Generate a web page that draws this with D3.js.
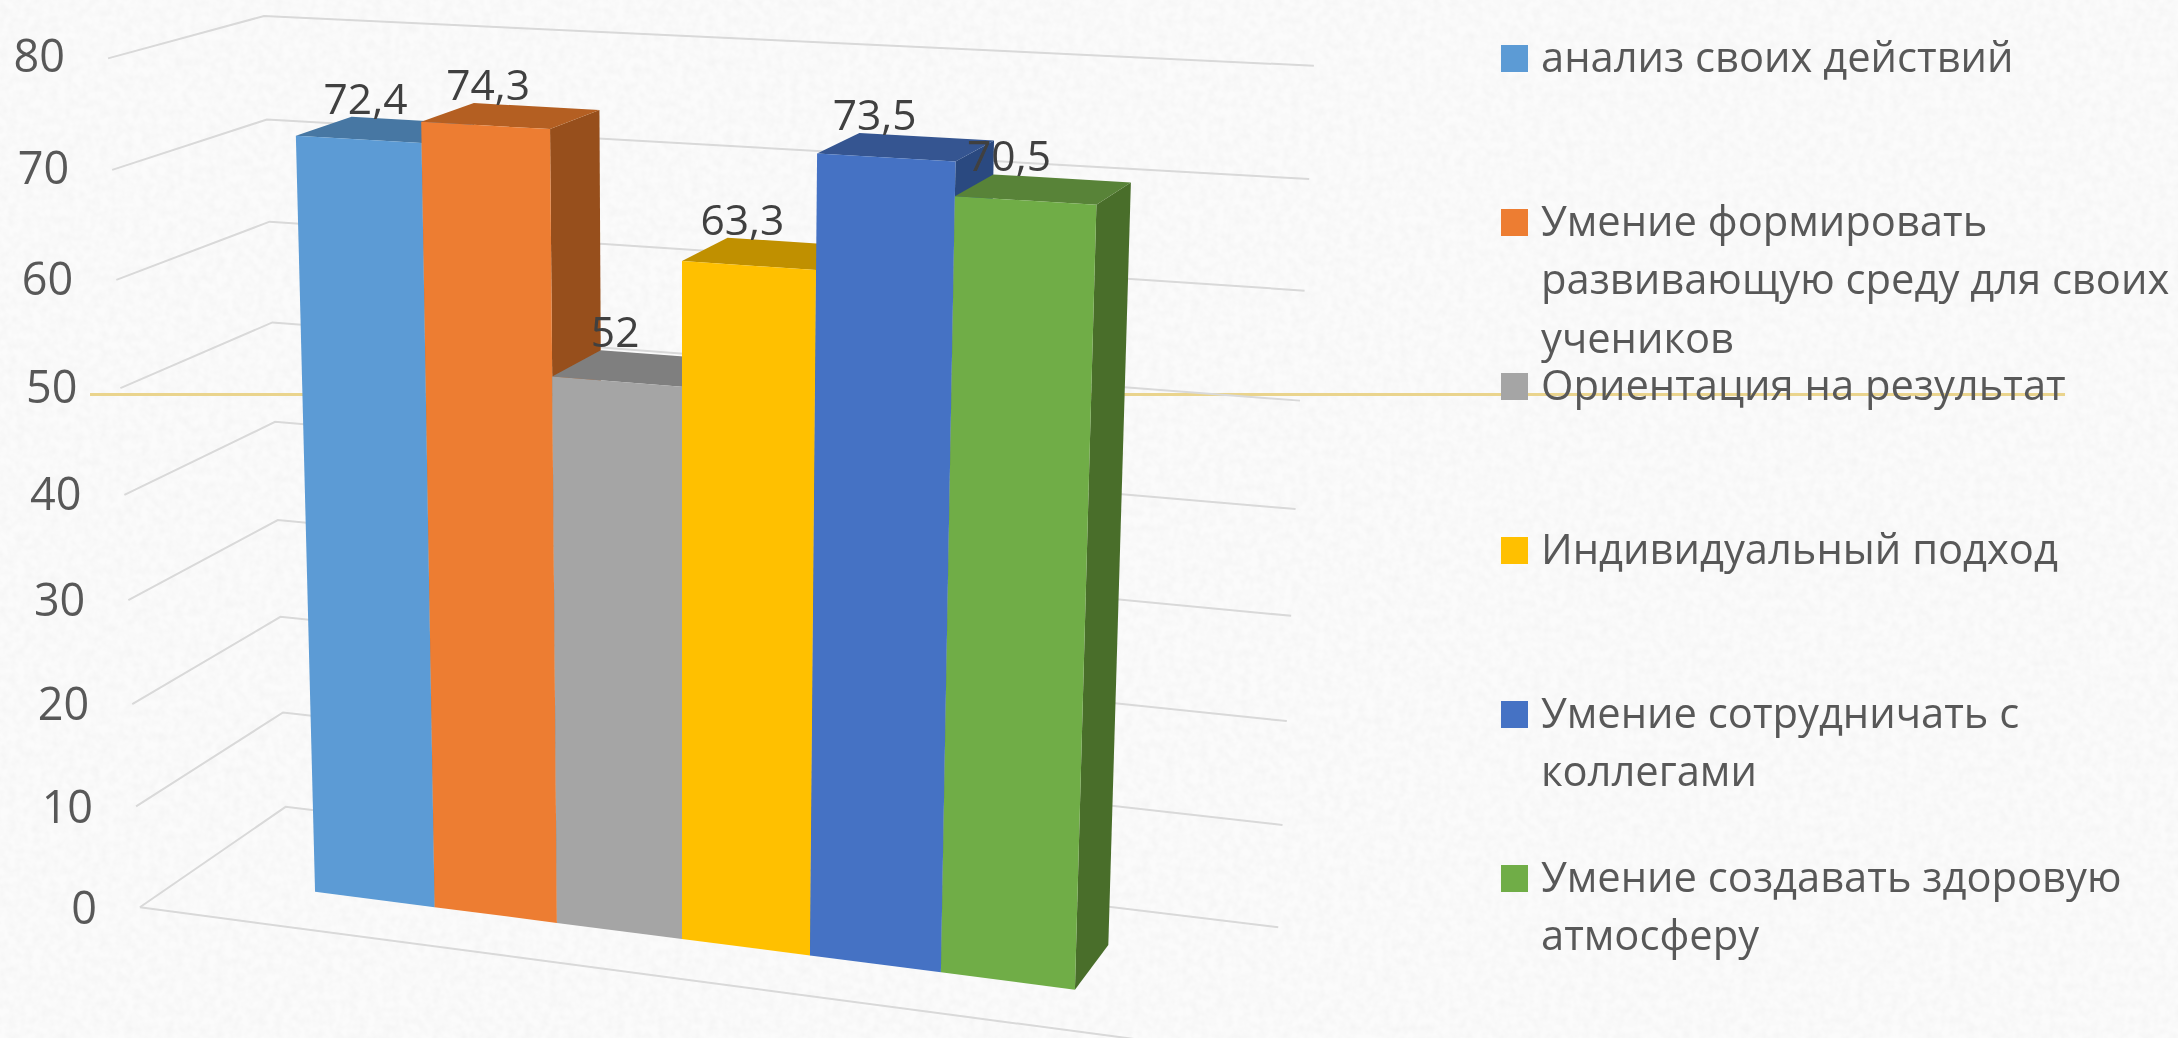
<!DOCTYPE html>
<html lang="ru">
<head>
<meta charset="utf-8">
<script src="https://cdn.jsdelivr.net/npm/d3@7/dist/d3.min.js"></script>
<style>
html,body{margin:0;padding:0;background:#fafafa;overflow:hidden}
svg{display:block}
text{font-family:"Open Sans",sans-serif}
</style>
</head>
<body>
<svg id="chart" width="2178" height="1038"></svg>
<script>
const categories = [
  ["анализ своих действий"],
  ["Умение формировать", "развивающую среду для своих", "учеников"],
  ["Ориентация на результат"],
  ["Индивидуальный подход"],
  ["Умение сотрудничать с", "коллегами"],
  ["Умение создавать здоровую", "атмосферу"]
];
const values = [72.4, 74.3, 52, 63.3, 73.5, 70.5];
const valueLabels = ["72,4", "74,3", "52", "63,3", "73,5", "70,5"];
const tickValues = [0, 10, 20, 30, 40, 50, 60, 70, 80];
const frontColors = ["#5B9BD5", "#ED7D31", "#A5A5A5", "#FFC000", "#4472C4", "#70AD47"];
const topColors   = ["#4677A3", "#B45F21", "#7F7F7F", "#C09000", "#345591", "#588337"];
const sideColors  = ["#3F6A92", "#974F1B", "#6E6E6E", "#A67C00", "#2B4A80", "#4A6E2B"];

const svg = d3.select("#chart");
const W = 2178, H = 1038;

// Scales: category slot, value and depth, in the chart's own 3D box
const uScale = d3.scaleLinear().domain([0, categories.length]).range([-3, 3]);
const vScale = d3.scaleLinear().domain([0, 80]).range([0, 80]);
const tickNudge = d3.scaleLinear().domain([0, 80]).range([17, 14]);
const dFloor = {front: -0.8, back: 1.83}, uWall = 4.1;

// Projective camera that maps the 3D box on the picture
const cam = {ox: 682, oy: 939, ax: 126.5, py: 16.3, qy: 10.23, cx: 44.9, ry: -43,
             gu: 0.0114, ev: 0.00071, dl: 0.0297};
function project(u, v, d) {
  const val = vScale(v);
  const w = 1 - cam.gu * u - cam.ev * val + cam.dl * d;
  return [
    cam.ox + (cam.ax * u + cam.cx * d) / w,
    cam.oy + (cam.py * u - cam.qy * val + cam.ry * d) / w
  ];
}
const poly = pts => d3.line()(pts) + "Z";

// paper-like background and a soft edge on the picture
const defs = svg.append("defs");
const paper = defs.append("filter").attr("id", "paper")
  .attr("x", 0).attr("y", 0).attr("width", 1).attr("height", 1);
paper.append("feTurbulence").attr("type", "fractalNoise").attr("baseFrequency", 0.12)
  .attr("numOctaves", 2).attr("seed", 3);
paper.append("feColorMatrix").attr("type", "matrix")
  .attr("values", "0 0 0 0 0  0 0 0 0 0  0 0 0 0 0  0.04 0 0 0 -0.012");
defs.append("filter").attr("id", "soft")
  .attr("filterUnits", "userSpaceOnUse")
  .attr("x", 0).attr("y", 0).attr("width", W).attr("height", H)
  .append("feGaussianBlur").attr("stdDeviation", 0.6);

svg.append("rect").attr("width", W).attr("height", H).attr("fill", "#fbfbfb");
svg.append("rect").attr("width", W).attr("height", H).attr("filter", "url(#paper)");

const root = svg.append("g").attr("filter", "url(#soft)");

// decorative slide rule behind the chart
root.append("line").attr("x1", 90).attr("x2", 2065).attr("y1", 394.5).attr("y2", 394.5)
  .attr("stroke", "#EAD48D").attr("stroke-width", 3);

// gridlines
const grid = root.append("g").attr("fill", "none").attr("stroke", "#D9D9D9").attr("stroke-width", 2);
tickValues.forEach(t => {
  grid.append("path").attr("d", d3.line()([
    project(-uWall, t, dFloor.front),
    project(-uWall, t, dFloor.back),
    project(uWall, t, dFloor.back)
  ]));
});
grid.append("path").attr("d", d3.line()([
  project(-uWall, 0, dFloor.front),
  project(uWall, 0, dFloor.front)
]));

// axis labels
root.append("g").selectAll("text").data(tickValues).join("text")
  .attr("x", t => project(-uWall, t, dFloor.front)[0] - 43)
  .attr("y", t => project(-uWall, t, dFloor.front)[1] + tickNudge(t))
  .attr("text-anchor", "end")
  .attr("font-size", 45)
  .attr("fill", "#595959")
  .text(t => t);

// bars, painted left to right
const bars = root.append("g");
values.forEach((val, i) => {
  const u0 = uScale(i), u1 = uScale(i + 1);
  const g = bars.append("g");
  g.append("path").attr("fill", sideColors[i]).attr("d", poly([
    project(u1, 0, 0), project(u1, 0, 1), project(u1, val, 1), project(u1, val, 0)
  ]));
  g.append("path").attr("fill", topColors[i]).attr("d", poly([
    project(u0, val, 0), project(u0, val, 1), project(u1, val, 1), project(u1, val, 0)
  ]));
  g.append("path").attr("fill", frontColors[i]).attr("d", poly([
    project(u0, 0, 0), project(u1, 0, 0), project(u1, val, 0), project(u0, val, 0)
  ]));
});

// value labels
root.append("g").selectAll("text").data(values).join("text")
  .attr("x", (v, i) => project(uScale(i) + 0.115, v, 1)[0])
  .attr("y", (v, i) => project(uScale(i) + 0.115, v, 1)[1] - 4)
  .attr("text-anchor", "middle")
  .attr("font-size", 42.5)
  .attr("fill", "#404040")
  .text((v, i) => valueLabels[i]);

// legend
const legendY = d3.scaleLinear().domain([0, 1]).range([58.5, 222.5]);
const legend = root.append("g").selectAll("g").data(categories).join("g")
  .attr("transform", (c, i) => `translate(1501,${legendY(i)})`);
legend.append("rect").attr("x", 0).attr("y", -13.5).attr("width", 27).attr("height", 27)
  .attr("fill", (c, i) => frontColors[i]);
legend.each(function (lines) {
  d3.select(this).selectAll("text").data(lines).join("text")
    .attr("x", 40).attr("y", (l, j) => 13 + j * 58.5)
    .attr("font-size", 41.7)
    .attr("fill", "#595959")
    .text(l => l);
});
</script>
</body>
</html>
